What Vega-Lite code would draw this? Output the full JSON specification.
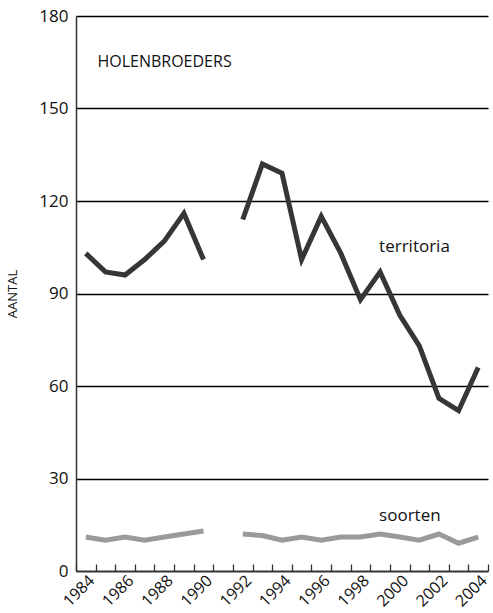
{
  "$schema": "https://vega.github.io/schema/vega-lite/v6.json",
  "width": 412,
  "height": 555,
  "autosize": "none",
  "padding": {"left": 76, "top": 16, "right": 5, "bottom": 42},
  "background": "white",
  "config": {
    "view": {"stroke": null},
    "font": "Open Sans"
  },
  "datasets": {
    "series": [
      {"year": 1984, "series": "territoria", "seg": 1, "value": 103},
      {"year": 1985, "series": "territoria", "seg": 1, "value": 97},
      {"year": 1986, "series": "territoria", "seg": 1, "value": 96},
      {"year": 1987, "series": "territoria", "seg": 1, "value": 101},
      {"year": 1988, "series": "territoria", "seg": 1, "value": 107},
      {"year": 1989, "series": "territoria", "seg": 1, "value": 116},
      {"year": 1990, "series": "territoria", "seg": 1, "value": 101},
      {"year": 1992, "series": "territoria", "seg": 2, "value": 114},
      {"year": 1993, "series": "territoria", "seg": 2, "value": 132},
      {"year": 1994, "series": "territoria", "seg": 2, "value": 129},
      {"year": 1995, "series": "territoria", "seg": 2, "value": 101},
      {"year": 1996, "series": "territoria", "seg": 2, "value": 115},
      {"year": 1997, "series": "territoria", "seg": 2, "value": 103},
      {"year": 1998, "series": "territoria", "seg": 2, "value": 88},
      {"year": 1999, "series": "territoria", "seg": 2, "value": 97},
      {"year": 2000, "series": "territoria", "seg": 2, "value": 83},
      {"year": 2001, "series": "territoria", "seg": 2, "value": 73},
      {"year": 2002, "series": "territoria", "seg": 2, "value": 56},
      {"year": 2003, "series": "territoria", "seg": 2, "value": 52},
      {"year": 2004, "series": "territoria", "seg": 2, "value": 66},
      {"year": 1984, "series": "soorten", "seg": 1, "value": 11},
      {"year": 1985, "series": "soorten", "seg": 1, "value": 10},
      {"year": 1986, "series": "soorten", "seg": 1, "value": 11},
      {"year": 1987, "series": "soorten", "seg": 1, "value": 10},
      {"year": 1988, "series": "soorten", "seg": 1, "value": 11},
      {"year": 1989, "series": "soorten", "seg": 1, "value": 12},
      {"year": 1990, "series": "soorten", "seg": 1, "value": 13},
      {"year": 1992, "series": "soorten", "seg": 2, "value": 12},
      {"year": 1993, "series": "soorten", "seg": 2, "value": 11.5},
      {"year": 1994, "series": "soorten", "seg": 2, "value": 10},
      {"year": 1995, "series": "soorten", "seg": 2, "value": 11},
      {"year": 1996, "series": "soorten", "seg": 2, "value": 10},
      {"year": 1997, "series": "soorten", "seg": 2, "value": 11},
      {"year": 1998, "series": "soorten", "seg": 2, "value": 11},
      {"year": 1999, "series": "soorten", "seg": 2, "value": 12},
      {"year": 2000, "series": "soorten", "seg": 2, "value": 11},
      {"year": 2001, "series": "soorten", "seg": 2, "value": 10},
      {"year": 2002, "series": "soorten", "seg": 2, "value": 12},
      {"year": 2003, "series": "soorten", "seg": 2, "value": 9},
      {"year": 2004, "series": "soorten", "seg": 2, "value": 11}
    ],
    "labels": [
      {"year": 1985, "value": 165, "text": "HOLENBROEDERS"},
      {"year": 1999, "value": 105, "text": "territoria"},
      {"year": 1999, "value": 18, "text": "soorten"}
    ]
  },
  "encoding": {
    "x": {
      "field": "year",
      "type": "ordinal",
      "scale": {
        "domain": [1984,1985,1986,1987,1988,1989,1990,1991,1992,1993,1994,1995,1996,1997,1998,1999,2000,2001,2002,2003,2004],
        "paddingInner": 0,
        "paddingOuter": 0
      },
      "axis": {
        "title": null,
        "tickBand": "extent",
        "tickSize": -7,
        "tickColor": "#333",
        "tickWidth": 1.3,
        "domainColor": "#333",
        "domainWidth": 1.5,
        "grid": false,
        "labelAngle": -45,
        "labelAlign": "right",
        "labelBaseline": "top",
        "labelPadding": 8,
        "labelFontSize": 16,
        "labelColor": "#111",
        "labelOverlap": false,
        "labelExpr": "datum.value % 2 == 0 ? datum.label : ''"
      }
    },
    "y": {
      "field": "value",
      "type": "quantitative",
      "scale": {"domain": [0, 180], "nice": false, "zero": true},
      "axis": {
        "title": "AANTAL",
        "titleFontSize": 13,
        "titleFontWeight": "normal",
        "titleColor": "#111",
        "titlePadding": 19,
        "values": [0, 30, 60, 90, 120, 150, 180],
        "ticks": false,
        "labelPadding": 8,
        "labelFontSize": 17,
        "labelColor": "#111",
        "domainColor": "#333",
        "domainWidth": 1.5,
        "grid": true,
        "gridColor": "#000",
        "gridWidth": 1.3,
        "gridOpacity": 1
      }
    }
  },
  "layer": [
    {
      "data": {"name": "series"},
      "mark": {"type": "line", "strokeWidth": 5, "strokeJoin": "miter", "strokeCap": "butt"},
      "encoding": {
        "detail": {"field": "seg", "type": "nominal"},
        "color": {
          "field": "series",
          "type": "nominal",
          "scale": {"domain": ["territoria", "soorten"], "range": ["#363636", "#9a9a9a"]},
          "legend": null
        }
      }
    },
    {
      "data": {"name": "labels"},
      "transform": [{"filter": "datum.text == 'HOLENBROEDERS'"}],
      "mark": {"type": "text", "align": "left", "baseline": "middle", "color": "#111", "fontSize": 16, "dx": -8},
      "encoding": {"text": {"field": "text"}}
    },
    {
      "data": {"name": "labels"},
      "transform": [{"filter": "datum.text != 'HOLENBROEDERS'"}],
      "mark": {"type": "text", "align": "left", "baseline": "middle", "color": "#111", "fontSize": 17, "dx": -1},
      "encoding": {"text": {"field": "text"}}
    }
  ]
}
